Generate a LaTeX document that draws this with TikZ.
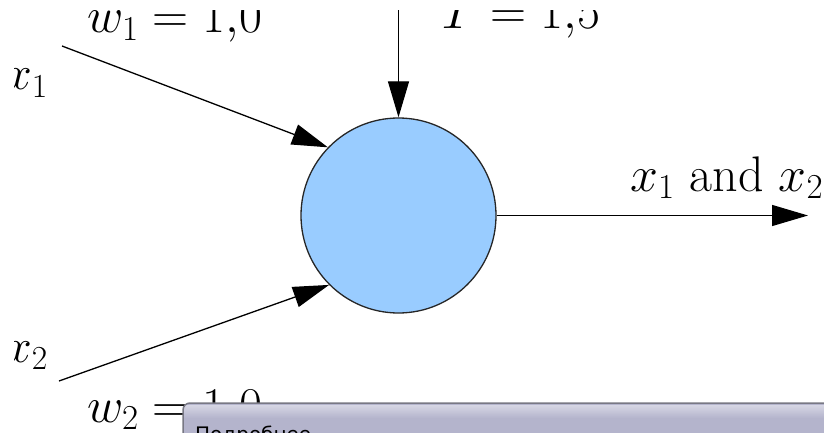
\RequirePackage{fix-cm}
\documentclass[tikz,border=0pt]{standalone}
\usepackage{fontspec}
\newfontfamily\tipfont{DejaVu Sans}
\usetikzlibrary{arrows.meta}
\definecolor{neuron}{RGB}{153,204,255}
\definecolor{tipfill}{RGB}{180,180,204}
\definecolor{tiplight}{RGB}{214,214,228}
\definecolor{tipedge}{RGB}{120,120,132}
\begin{document}
\begin{tikzpicture}[x=1pt,y=-1pt,
  conn/.style={line width=1.3pt,-{Triangle[length=36pt,width=21pt]}},
  lbl/.style={anchor=base west,inner sep=0pt,font=\fontsize{50}{54}\selectfont},
  xlbl/.style={anchor=base west,inner sep=0pt,font=\fontsize{48}{52}\selectfont},
  neuronstyle/.style={circle,draw=black!85,line width=1.3pt,fill=neuron,minimum size=195pt,inner sep=0pt}]
\useasboundingbox (0,0) rectangle (824,433);
\fill[white] (0,0) rectangle (824,433);
\clip (14,11) rectangle (824,433);
\node[neuronstyle] (n) at (398.5,215.5) {};
\coordinate (top) at (398.5,10);
\coordinate (in1) at (62,46);
\coordinate (in2) at (59,381);
\coordinate (out) at (808,215.5);
\draw[conn] (top) -- (n.north);
\draw[conn] (in1) -- (n.136);
\draw[conn] (in2) -- (n.225);
\draw[conn] (n.east) -- (out);
\node[xlbl] (lx1) at (5,90) {$x_1$};
\node[xlbl] (lx2) at (5,362) {$x_2$};
\node[lbl] (lw1) at (87,33) {$w_1 = 1{,}0$};
\node[lbl] (lT) at (441,29) {$T = 1{,}5$};
\node[lbl] (lout) at (630,191) {$x_1$ and $x_2$};
\node[lbl] (lw2) at (87,422) {$w_2 = 1{,}0$};
\fill[tipfill,rounded corners=7pt] (183,460) -- (183,403) -- (840,403) -- (840,460) -- cycle;
\shade[top color=tiplight,bottom color=tipfill] (184,405) rectangle (840,418);
\draw[draw=tipedge,line width=1.5pt,rounded corners=7pt]
  (183,460) -- (183,403) -- (840,403) -- (840,460);
\node[anchor=base west,inner sep=0pt,font=\tipfont\fontsize{20}{24}\selectfont] (tip) at (195,441) {Подробнее};
\end{tikzpicture}
\end{document}
